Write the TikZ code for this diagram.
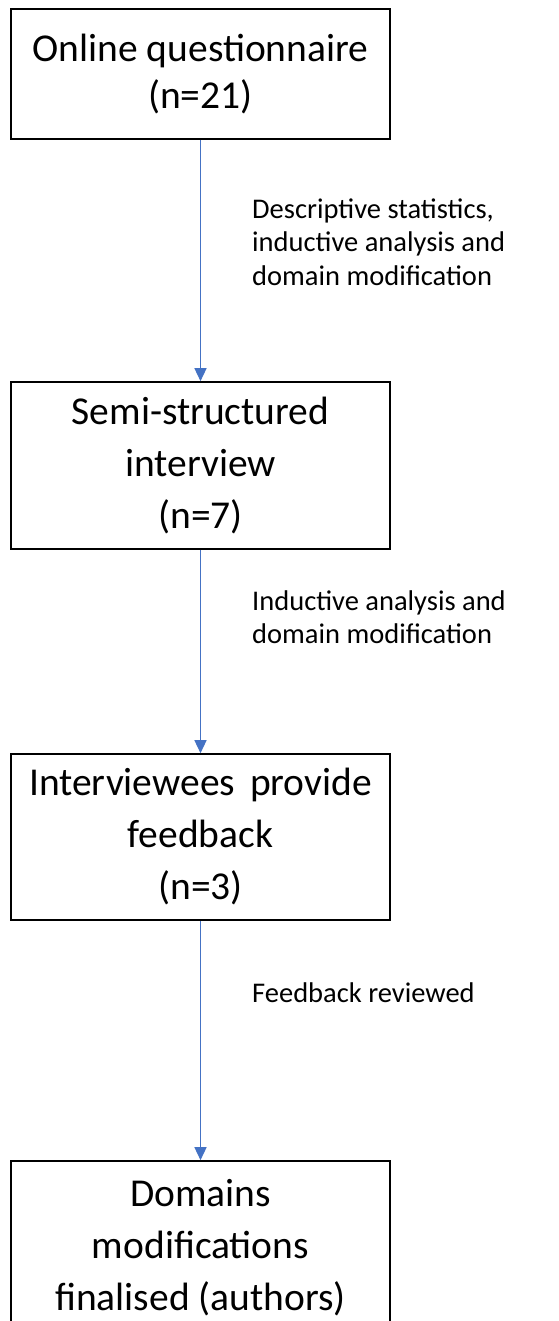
\documentclass[tikz,border=0pt]{standalone}
\usepackage{fontspec}
\setmainfont{Carlito}
\usepackage{tikz}
\usetikzlibrary{arrows.meta}
\definecolor{linkblue}{RGB}{68,114,196}
\tikzstyle{stage}=[draw=black,line width=1.6pt,rectangle,minimum width=379pt,align=center,inner sep=0pt,font=\fontsize{39.5}{52}\selectfont]
\tikzstyle{link}=[draw=linkblue,line width=1.4pt,-{Triangle[width=12pt,length=13pt]}]
\tikzstyle{note}=[anchor=west,align=left,inner sep=0pt,font=\fontsize{28.5}{33.5}\selectfont]

\begin{document}
\begin{tikzpicture}[x=1pt,y=-1pt]
    \useasboundingbox (0,0) rectangle (558,1321);
    \node[stage,minimum height=130pt,font=\fontsize{39.5}{47}\selectfont] (quest) at (200.5,74) {Online questionnaire\\(n=21)};
    \node[stage,minimum height=167pt] (iview) at (200.5,465.5) {Semi-structured\\interview\\(n=7)};
    \node[stage,minimum height=166pt] (fback) at (200.5,837) {Interviewees\hspace{6pt} provide\\feedback\\(n=3)};
    \node[stage,minimum height=174pt] (final) at (200.5,1248) {Domains\\modifications\\finalised (authors)};
    \foreach \source/ \dest in {quest/iview, iview/fback, fback/final}
        \path[link] (\source) -- (\dest);
    \node[note] (why1) at (252,242) {Descriptive statistics,\\inductive analysis and\\domain modification};
    \node[note] (why2) at (252,617) {Inductive analysis and\\domain modification};
    \node[note] (why3) at (252,993) {Feedback reviewed};
\end{tikzpicture}
\end{document}
